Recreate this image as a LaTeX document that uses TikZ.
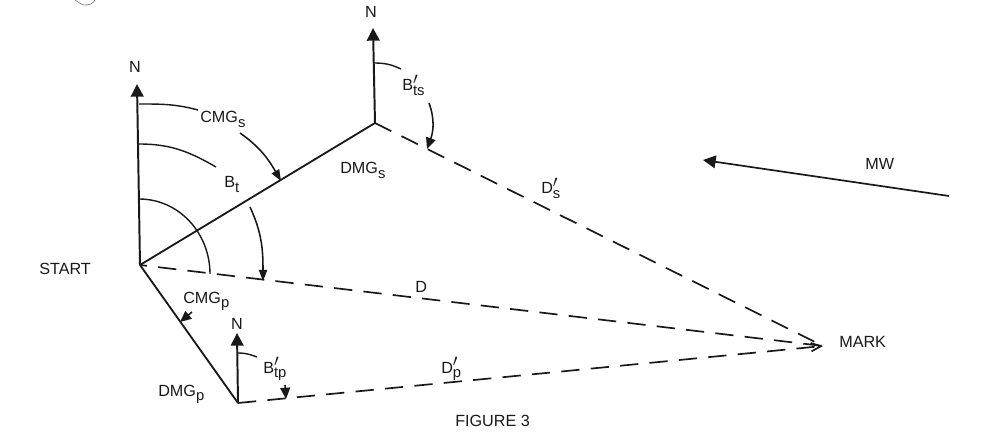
\documentclass[tikz,border=0pt]{standalone}
\usepackage{fontspec}
\setmainfont{Liberation Sans}
\usetikzlibrary{arrows.meta}
\tikzset{
    course/.style={line width=1.3pt, black!90},
    bearing/.style={line width=1.2pt, dash pattern=on 13pt off 8pt, black!90},
    north/.style={line width=1.4pt, -{Triangle[length=9pt,width=9pt]}, black!90},
    swing/.style={line width=1pt, black!90},
    swingto/.style={line width=1.1pt, black!90, -{Triangle[length=8pt,width=6pt]}},
    swingfat/.style={line width=1.1pt, black!90, -{Triangle[length=8pt,width=7pt]}},
    lab/.style={inner sep=0pt, anchor=base west, font=\fontsize{11.5}{13}\selectfont, text=black!90}
}
\newcommand{\subs}[1]{\raisebox{-3pt}{\fontsize{10.5}{12}\selectfont #1}}
\newcommand{\subp}[1]{\rlap{\raisebox{4.5pt}{$\prime$}}\subs{#1}}
\begin{document}
\begin{tikzpicture}[x=0.025cm,y=-0.025cm]
    \useasboundingbox (0,0) rectangle (998,445);
    % positions
    \coordinate (start) at (140,265);
    \coordinate (stbd) at (375,123);
    \coordinate (port) at (238,403);
    \coordinate (mark) at (823,346);
    \coordinate (ntip) at (137,84);
    \coordinate (nstbd) at (373,28);
    \coordinate (nport) at (237,333);
    \coordinate (wfrom) at (949,196);
    \coordinate (wto) at (703,160);
    % legs
    \draw[course] (start) -- (stbd);
    \draw[course] (start) -- (port);
    \draw[bearing, dash phase=8pt] (start) -- (mark);
    \draw[bearing] (stbd) -- (mark);
    \draw[bearing, -{Straight Barb[length=7pt,width=6pt]}] (port) -- (mark);
    % norths
    \draw[north] (start) -- (ntip);
    \draw[north] (stbd) -- (nstbd);
    \draw[north] (port) -- (nport);
    \draw[line width=1.2pt, -{Triangle[length=9pt,width=9pt]}, black!90] (wfrom) -- (wto);
    % angles
    \coordinate (a1) at (139,104);
    \coordinate (a2) at (198,110);
    \draw[swing] (a1) to[out=0,in=165] (a2);
    \coordinate (a3) at (240,133);
    \coordinate (a4) at (281,181);
    \draw[swingto] (a3) to[out=-35,in=120] (a4);
    \coordinate (b1) at (139,144);
    \coordinate (b2) at (216,167);
    \draw[swing] (b1) to[out=0,in=150] (b2);
    \coordinate (b3) at (250,207);
    \coordinate (b4) at (263,281);
    \draw[swingto] (b3) to[out=-65,in=90] (b4);
    \coordinate (c1) at (139,199);
    \coordinate (c2) at (210,274);
    \draw[swing] (c1) to[out=0,in=90] (c2);
    \coordinate (d1) at (374,63);
    \coordinate (d2) at (401,69);
    \draw[swing] (d1) to[out=0,in=155] (d2);
    \coordinate (d3) at (429,103);
    \coordinate (d4) at (427,149);
    \draw[swingfat] (d3) to[out=-70,in=70] (d4);
    \coordinate (e1) at (238,353);
    \coordinate (e2) at (257,357);
    \draw[swing] (e1) to[out=0,in=160] (e2);
    \coordinate (e3) at (285,385);
    \coordinate (e4) at (286,399);
    \draw[swingfat] (e3) to (e4);
    \coordinate (f1) at (192,312);
    \coordinate (f2) at (180,322);
    \draw[swingfat] (f1) -- (f2);
    % corner mark
    \coordinate (g1) at (75,0);
    \coordinate (g2) at (95,0);
    \draw[line width=0.4pt, black!60] (g1) to[out=-30,in=190] (87,5) to[out=10,in=-120] (g2);
    % labels
    \node[lab, anchor=base] (lnstart) at (135,73) {N};
    \node[lab, anchor=base] (lnstbd) at (371,18) {N};
    \node[lab, anchor=base] (lnport) at (237,329) {N};
    \node[lab] (lcmgs) at (200,123) {CMG\subs{s}};
    \node[lab] (lbt) at (224,188) {B\subs{t}};
    \node[lab] (ldmgs) at (340,174) {DMG\subs{s}};
    \node[lab] (lbts) at (402,91) {B\subp{ts}};
    \node[lab] (ldsp) at (541,194) {D\subp{s}};
    \node[lab] (lmw) at (865,170) {MW};
    \node[lab] (lstart) at (39,274) {START};
    \node[lab] (ld) at (415,292) {D};
    \node[lab] (lcmgp) at (183,303) {CMG\subs{p}};
    \node[lab] (lbtp) at (263,373) {B\subp{tp}};
    \node[lab] (ldpp) at (441,373) {D\subp{p}};
    \node[lab] (ldmgp) at (158,396) {DMG\subs{p}};
    \node[lab] (lmark) at (839,347) {MARK};
    \node[lab] (lfig) at (455,426) {FIGURE 3};
\end{tikzpicture}
\end{document}
